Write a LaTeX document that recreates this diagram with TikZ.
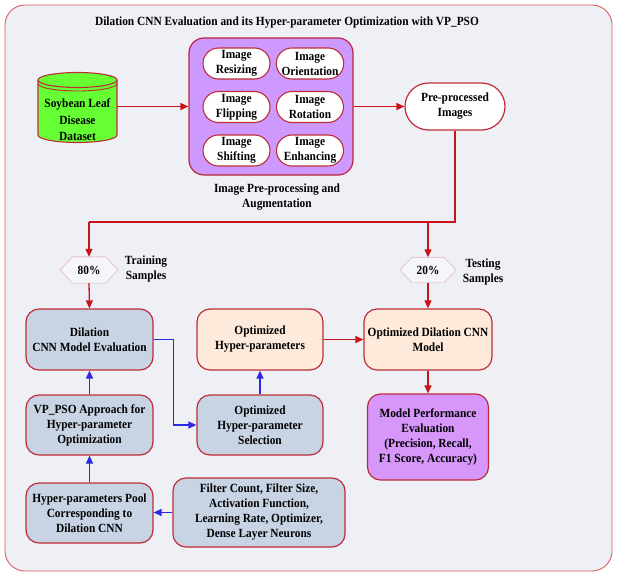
\documentclass[tikz,border=0pt]{standalone}
\usepackage{fontspec}
\setmainfont{Liberation Serif}[FakeStretch=0.91]
\usetikzlibrary{arrows.meta,shapes.misc,calc}
\definecolor{bgc}{RGB}{238,240,246}
\definecolor{outerred}{RGB}{222,90,90}
\definecolor{boxred}{RGB}{190,45,55}
\definecolor{linered}{RGB}{200,20,25}
\definecolor{lineblue}{RGB}{45,40,225}
\definecolor{greenf}{RGB}{102,255,51}
\definecolor{purplef}{RGB}{206,153,255}
\definecolor{purplef2}{RGB}{214,150,250}
\definecolor{bluegray}{RGB}{200,212,228}
\definecolor{peach}{RGB}{253,234,218}
\definecolor{hexline}{RGB}{232,200,205}
\begin{document}
\begin{tikzpicture}[x=1pt,y=-1pt,
  txt/.style={font=\bfseries\fontsize{12.5}{15}\selectfont, align=center, text=black, inner sep=0pt},
  box/.style={txt, draw=boxred, line width=1.2pt, rounded corners=13pt},
  oval/.style={txt, draw=boxred, line width=1.1pt, fill=white, rounded rectangle, minimum width=67pt, minimum height=31pt},
  ra/.style={draw=linered, line width=1.3pt, -{Triangle[length=8pt,width=7pt]}},
  rl/.style={draw=linered, line width=1.3pt},
  ba/.style={draw=lineblue, line width=1.3pt, -{Triangle[length=8pt,width=7pt]}},
  hexn/.style={txt, minimum width=57pt, minimum height=26pt},
]
\useasboundingbox (0,0) rectangle (618,575);
\draw[outerred, line width=0.9pt, fill=bgc, rounded corners=20pt] (5,5) rectangle (612,571);

\node[txt] (title) at (287,23) {Dilation CNN Evaluation and its Hyper-parameter Optimization with VP\_PSO};

% cylinder
\fill[greenf] (38,80) -- (38,135) arc[start angle=180, end angle=0, x radius=39.5, y radius=7.5] -- (117,80) -- cycle;
\draw[boxred, line width=1.1pt] (38,80) -- (38,135) arc[start angle=180, end angle=0, x radius=39.5, y radius=7.5] -- (117,80);
\draw[boxred, line width=1.1pt, fill=greenf] (77.5,80) ellipse[x radius=39.5, y radius=7.5];
\draw[boxred, line width=0.9pt] (38,83.5) arc[start angle=180, end angle=0, x radius=39.5, y radius=7.5];
\node[txt, font=\bfseries\fontsize{12.5}{16.5}\selectfont, minimum width=79pt, minimum height=70pt] (ds) at (77.5,120) {Soybean Leaf\\Disease\\Dataset};

% augmentation
\node[box, draw=boxred!80!purple, fill=purplef, minimum width=164pt, minimum height=137pt, rounded corners=15pt] (aug) at (271,106.5) {};
\node[oval] (o1) at (236.5,63.5) {Image\\Resizing};
\node[oval] (o2) at (310,63.5) {Image\\Orientation};
\node[oval] (o3) at (236.5,107) {Image\\Flipping};
\node[oval] (o4) at (310,107) {Image\\Rotation};
\node[oval] (o5) at (236.5,150.5) {Image\\Shifting};
\node[oval] (o6) at (310,150.5) {Image\\Enhancing};
\node[txt] (augcap) at (277,197.5) {Image Pre-processing and\\Augmentation};

\node[txt, draw=boxred, line width=1.2pt, fill=white, rounded rectangle, minimum width=100pt, minimum height=47pt] (pre) at (455,106.5) {Pre-processed\\Images};

% split
\node[hexn] (h80) at (89,270) {};
\node[hexn, minimum width=56pt, minimum height=25pt] (h20) at (428,270) {};
\foreach \h in {h80,h20}{
  \draw[hexline, line width=0.9pt, fill=bgc!60!white] (\h.west) -- ([xshift=12pt]\h.north west) -- ([xshift=-12pt]\h.north east) -- (\h.east) -- ([xshift=-12pt]\h.south east) -- ([xshift=12pt]\h.south west) -- cycle;
}
\node[txt] at (h80) {80\%};
\node[txt] at (h20) {20\%};
\node[txt] (trn) at (146,269) {Training\\Samples};
\node[txt] (tst) at (483,272) {Testing\\Samples};

% main boxes
\node[box, fill=bluegray, minimum width=127pt, minimum height=61pt] (dil) at (89.5,339.5) {Dilation\\CNN Model Evaluation};
\node[box, fill=peach, minimum width=126pt, minimum height=61pt] (opth) at (260,339.5) {Optimized\\Hyper-parameters};
\node[box, fill=peach, minimum width=128pt, minimum height=61pt] (odc) at (428,339.5) {Optimized Dilation CNN\\Model};
\node[box, fill=purplef2, minimum width=121pt, minimum height=86pt] (mpe) at (428,437) {Model Performance\\Evaluation\\(Precision, Recall,\\F1 Score, Accuracy)};
\node[box, fill=bluegray, minimum width=127pt, minimum height=60pt] (vp) at (89.5,425) {VP\_PSO Approach for\\Hyper-parameter\\Optimization};
\node[box, fill=bluegray, minimum width=126pt, minimum height=60pt] (ops) at (260,425) {Optimized\\Hyper-parameter\\Selection};
\node[box, fill=bluegray, minimum width=127pt, minimum height=60pt] (pool) at (89.5,513) {Hyper-parameters Pool\\Corresponding to\\Dilation CNN};
\node[box, fill=bluegray, minimum width=172pt, minimum height=69pt] (filt) at (259,512.5) {Filter Count, Filter Size,\\Activation Function,\\Learning Rate, Optimizer,\\Dense Layer Neurons};

% red connectors
\draw[ra] (ds.east |- aug.west) -- (aug.west);
\draw[ra] (aug.east) -- (pre.west);
\coordinate (split) at (455,222);
\draw[rl] (pre.south) -- (split) -- (split -| h80.north);
\draw[ra] (split -| h80.north) -- (h80.north);
\draw[ra] (split -| h20.north) -- (h20.north);
\draw[ra] (h80.south) -- (dil.north);
\draw[ra] (h20.south) -- (odc.north);
\draw[ra] (opth.east) -- (odc.west);
\draw[ra] (odc.south) -- (mpe.north);

% blue connectors
\draw[ba] (vp.north) -- (dil.south);
\draw[ba] (pool.north) -- (vp.south);
\draw[ba] (filt.west) -- (filt.west -| pool.east);
\draw[ba] (ops.north) -- (opth.south);
\draw[ba] (dil.east) -- ++(20,0) |- (ops.west);
\end{tikzpicture}
\end{document}
